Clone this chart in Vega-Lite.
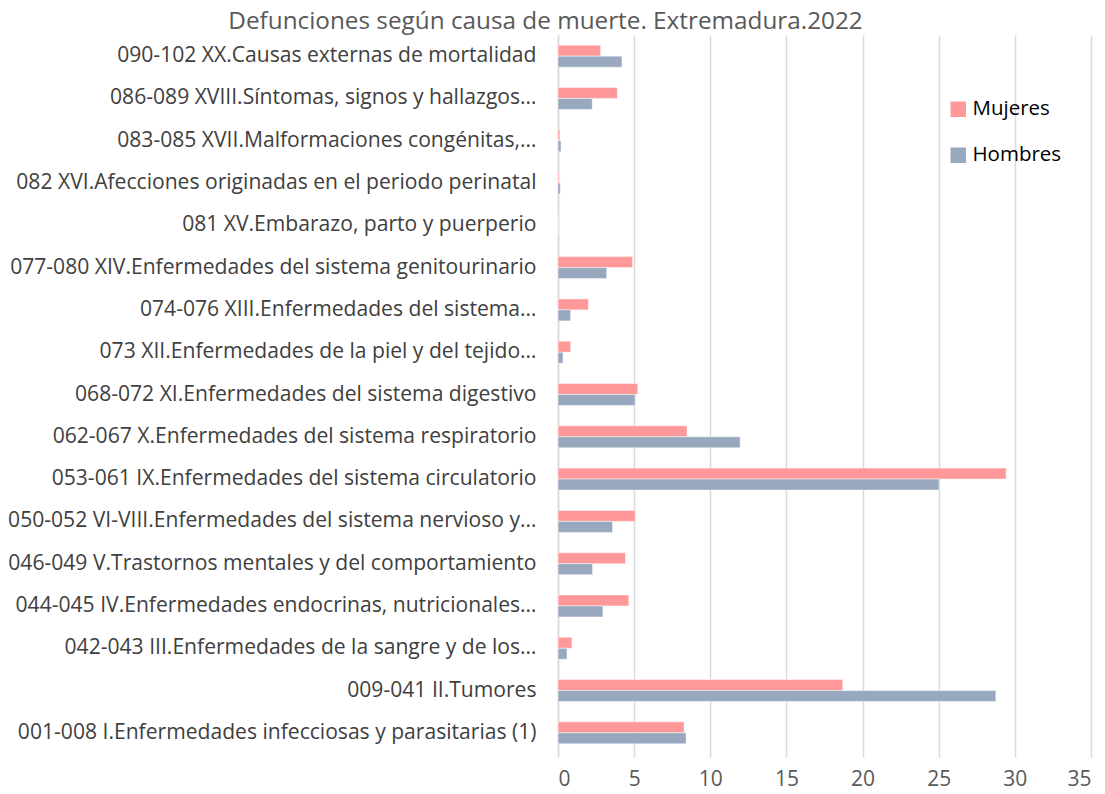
{
  "$schema": "https://vega.github.io/schema/vega-lite/v6.json",
  "autosize": "none",
  "width": 533,
  "height": 719,
  "padding": {"left": 558, "top": 35, "right": 14, "bottom": 40},
  "background": "white",
  "title": {
    "text": "Defunciones según causa de muerte. Extremadura.2022",
    "anchor": "middle",
    "frame": "group",
    "dx": -279,
    "offset": 1,
    "font": "Open Sans",
    "fontSize": 24.3,
    "fontWeight": "normal",
    "color": "#595959"
  },
  "data": {
    "values": [
      {"causa": "090-102 XX.Causas externas de mortalidad", "sexo": "Mujeres", "valor": 2.8},
      {"causa": "090-102 XX.Causas externas de mortalidad", "sexo": "Hombres", "valor": 4.2},
      {"causa": "086-089 XVIII.Síntomas, signos y hallazgos…", "sexo": "Mujeres", "valor": 3.9},
      {"causa": "086-089 XVIII.Síntomas, signos y hallazgos…", "sexo": "Hombres", "valor": 2.25},
      {"causa": "083-085 XVII.Malformaciones congénitas,…", "sexo": "Mujeres", "valor": 0.12},
      {"causa": "083-085 XVII.Malformaciones congénitas,…", "sexo": "Hombres", "valor": 0.2},
      {"causa": "082 XVI.Afecciones originadas en el periodo perinatal", "sexo": "Mujeres", "valor": 0.07},
      {"causa": "082 XVI.Afecciones originadas en el periodo perinatal", "sexo": "Hombres", "valor": 0.15},
      {"causa": "081 XV.Embarazo, parto y puerperio", "sexo": "Mujeres", "valor": 0},
      {"causa": "081 XV.Embarazo, parto y puerperio", "sexo": "Hombres", "valor": 0},
      {"causa": "077-080 XIV.Enfermedades del sistema genitourinario", "sexo": "Mujeres", "valor": 4.9},
      {"causa": "077-080 XIV.Enfermedades del sistema genitourinario", "sexo": "Hombres", "valor": 3.2},
      {"causa": "074-076 XIII.Enfermedades del sistema…", "sexo": "Mujeres", "valor": 2.0},
      {"causa": "074-076 XIII.Enfermedades del sistema…", "sexo": "Hombres", "valor": 0.83},
      {"causa": "073 XII.Enfermedades de la piel y del tejido…", "sexo": "Mujeres", "valor": 0.83},
      {"causa": "073 XII.Enfermedades de la piel y del tejido…", "sexo": "Hombres", "valor": 0.33},
      {"causa": "068-072 XI.Enfermedades del sistema digestivo", "sexo": "Mujeres", "valor": 5.24},
      {"causa": "068-072 XI.Enfermedades del sistema digestivo", "sexo": "Hombres", "valor": 5.07},
      {"causa": "062-067 X.Enfermedades del sistema respiratorio", "sexo": "Mujeres", "valor": 8.47},
      {"causa": "062-067 X.Enfermedades del sistema respiratorio", "sexo": "Hombres", "valor": 11.96},
      {"causa": "053-061 IX.Enfermedades del sistema circulatorio", "sexo": "Mujeres", "valor": 29.43},
      {"causa": "053-061 IX.Enfermedades del sistema circulatorio", "sexo": "Hombres", "valor": 25.02},
      {"causa": "050-052 VI-VIII.Enfermedades del sistema nervioso y…", "sexo": "Mujeres", "valor": 5.07},
      {"causa": "050-052 VI-VIII.Enfermedades del sistema nervioso y…", "sexo": "Hombres", "valor": 3.58},
      {"causa": "046-049 V.Trastornos mentales y del comportamiento", "sexo": "Mujeres", "valor": 4.43},
      {"causa": "046-049 V.Trastornos mentales y del comportamiento", "sexo": "Hombres", "valor": 2.27},
      {"causa": "044-045 IV.Enfermedades endocrinas, nutricionales…", "sexo": "Mujeres", "valor": 4.65},
      {"causa": "044-045 IV.Enfermedades endocrinas, nutricionales…", "sexo": "Hombres", "valor": 2.95},
      {"causa": "042-043 III.Enfermedades de la sangre y de los…", "sexo": "Mujeres", "valor": 0.92},
      {"causa": "042-043 III.Enfermedades de la sangre y de los…", "sexo": "Hombres", "valor": 0.59},
      {"causa": "009-041 II.Tumores", "sexo": "Mujeres", "valor": 18.7},
      {"causa": "009-041 II.Tumores", "sexo": "Hombres", "valor": 28.75},
      {"causa": "001-008 I.Enfermedades infecciosas y parasitarias (1)", "sexo": "Mujeres", "valor": 8.28},
      {"causa": "001-008 I.Enfermedades infecciosas y parasitarias (1)", "sexo": "Hombres", "valor": 8.41}
    ]
  },
  "mark": {"type": "bar", "stroke": "white", "strokeWidth": 0.8, "strokeOpacity": 0.6},
  "encoding": {
    "y": {
      "field": "causa",
      "type": "nominal",
      "sort": null,
      "scale": {"paddingInner": 0.48, "paddingOuter": 0.24},
      "axis": {
        "title": null,
        "ticks": false,
        "domain": true,
        "domainColor": "#d9d9d9",
        "domainWidth": 1.5,
        "labelFont": "Open Sans",
        "labelFontSize": 21.1,
        "labelColor": "#404040",
        "labelPadding": 22,
        "labelLimit": 600
      }
    },
    "yOffset": {"field": "sexo", "type": "nominal", "sort": ["Mujeres", "Hombres"]},
    "x": {
      "field": "valor",
      "type": "quantitative",
      "scale": {"domain": [0, 35], "nice": false},
      "axis": {
        "title": null,
        "values": [0, 5, 10, 15, 20, 25, 30, 35],
        "domain": false,
        "ticks": true,
        "tickSize": 3,
        "tickColor": "#d9d9d9",
        "tickWidth": 1.5,
        "grid": true,
        "gridColor": "#d9d9d9",
        "gridWidth": 1.5,
        "labelFont": "Open Sans",
        "labelFontSize": 21,
        "labelColor": "#595959",
        "labelPadding": 11
      }
    },
    "color": {
      "field": "sexo",
      "type": "nominal",
      "scale": {"domain": ["Mujeres", "Hombres"], "range": ["#FF9999", "#98A8BE"]},
      "legend": {
        "title": null,
        "orient": "none",
        "legendX": 390,
        "legendY": 64,
        "symbolType": "square",
        "symbolSize": 240,
        "symbolStrokeWidth": 0,
        "labelFont": "Open Sans",
        "labelFontSize": 20.5,
        "labelColor": "#000000",
        "labelOffset": 4,
        "rowPadding": 25
      }
    }
  },
  "config": {"view": {"stroke": null}}
}
